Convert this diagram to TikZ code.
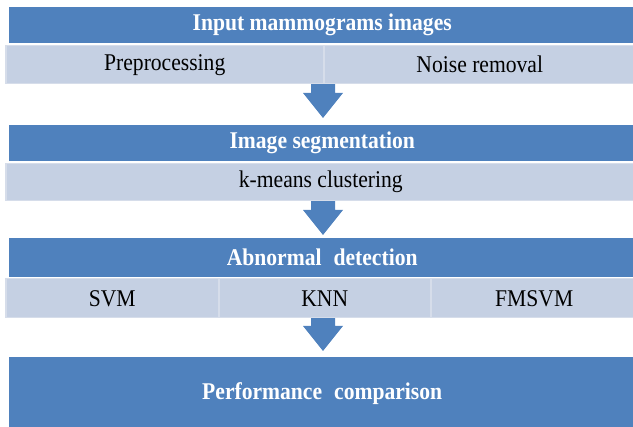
\documentclass[tikz,border=0pt]{standalone}
\usepackage{fontspec}
\setmainfont{Liberation Serif}[FakeStretch=0.9]
\usetikzlibrary{calc}
\definecolor{barblue}{HTML}{4F81BD}
\definecolor{cellfill}{HTML}{C5D0E3}
\definecolor{cellline}{HTML}{D6DDEA}
\begin{document}
\begin{tikzpicture}[x=1pt,y=-1pt,
  bar/.style={fill=barblue, draw=none, anchor=north west, inner sep=0pt,
    text=white, font=\fontsize{24}{24}\selectfont\bfseries},
  cell/.style={fill=cellfill, draw=cellline, line width=1.5pt, anchor=north west,
    inner sep=0pt, font=\fontsize{24}{24}\selectfont},
  flow/.style={fill=barblue, draw=none}]
\useasboundingbox (0,0) rectangle (633,427);

% block arrows between the stages (drawn first, under the cells)
\foreach \s/\t in {83/118, 200/235, 317/351}{
  \coordinate (as) at (323,\s);
  \coordinate (at) at (323,\t);
  \fill[flow] ($(as)+(-12,0)$) -- ($(as)+(12,0)$) -- ($(at)+(12,-25)$)
    -- ($(at)+(20,-25)$) -- (at) -- ($(at)+(-20,-25)$) -- ($(at)+(-12,-25)$) -- cycle;
}

% stage 1
\node[bar, minimum width=626pt, minimum height=36pt] (h1) at (9,7) {Input mammograms images};
\node[cell, minimum width=318pt, minimum height=38pt] (pre) at (5,45) {Preprocessing};
\node[cell, minimum width=312pt, minimum height=38pt] (noise) at (323,45) {Noise removal};

% stage 2
\node[bar, minimum width=626pt, minimum height=36pt] (h2) at (9,125) {Image segmentation};
\node[cell, minimum width=630pt, minimum height=37pt] (km) at (5,163) {k-means clustering};

% stage 3
\node[bar, minimum width=626pt, minimum height=39pt] (h3) at (9,238) {Abnormal\hspace{0.5em}detection};
\node[cell, minimum width=213pt, minimum height=39pt] (svm) at (5,278) {SVM};
\node[cell, minimum width=212pt, minimum height=39pt] (knn) at (218,278) {KNN};
\node[cell, minimum width=207pt, minimum height=39pt] (fmsvm) at (430,278) {FMSVM};

% final stage
\node[bar, minimum width=626pt, minimum height=72pt] (h4) at (9,357) {Performance\hspace{0.5em}comparison};
\end{tikzpicture}
\end{document}
